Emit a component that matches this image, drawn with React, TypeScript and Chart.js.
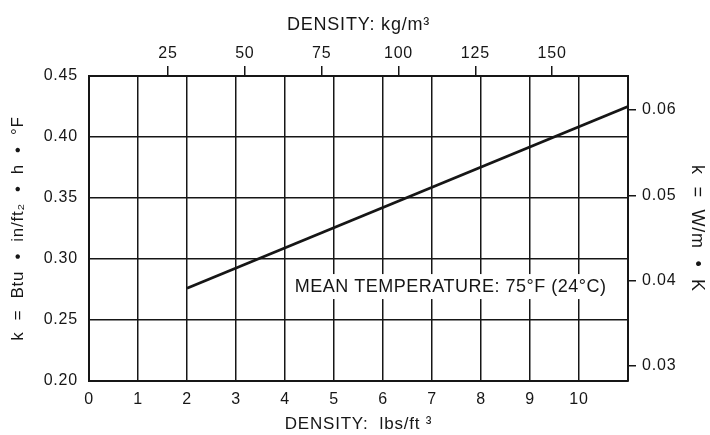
import React, { useEffect, useRef } from "react";
import { Chart, registerables } from "chart.js";

Chart.register(...registerables);

// Data
const densityLbs: number[] = [2, 11];
const kBtu: number[] = [0.276, 0.425];

const BOTTOM_TICKS: number[] = [0, 1, 2, 3, 4, 5, 6, 7, 8, 9, 10, 11];
const LEFT_TICKS: number[] = [0.2, 0.25, 0.3, 0.35, 0.4, 0.45];
const TOP_TICKS: number[] = [25, 50, 75, 100, 125, 150];
const RIGHT_TICKS: number[] = [0.03, 0.04, 0.05, 0.06];

const NOTE_TEXT = "MEAN TEMPERATURE: 75°F (24°C)";
const NOTE_X = 7.38;
const NOTE_Y = 0.277;

const FONT = "'Liberation Sans', Arial, Helvetica, sans-serif";
const INK = "#161616";

const spacingPlugin = {
  id: "spacingPlugin",
  beforeDraw(chart: any) {
    try {
      chart.ctx.letterSpacing = "0.8px";
    } catch (e) {
      /* ignore */
    }
  },
};

const notePlugin = {
  id: "notePlugin",
  afterDraw(chart: any) {
    const { ctx, scales } = chart;
    const x = scales.x.getPixelForValue(NOTE_X);
    const y = scales.y.getPixelForValue(NOTE_Y);
    ctx.save();
    try {
      ctx.letterSpacing = "0.5px";
    } catch (e) {
      /* ignore */
    }
    ctx.font = `18px ${FONT}`;
    const w = ctx.measureText(NOTE_TEXT).width;
    ctx.fillStyle = "#ffffff";
    ctx.fillRect(x - w / 2 - 4, y - 13, w + 8, 25);
    ctx.fillStyle = INK;
    ctx.textAlign = "center";
    ctx.textBaseline = "middle";
    ctx.fillText(NOTE_TEXT, x, y);
    ctx.restore();
  },
};

export default function App() {
  const ref = useRef<HTMLCanvasElement | null>(null);

  useEffect(() => {
    document.body.style.margin = "0";
    const canvas = ref.current;
    if (!canvas) return;
    const tickFont = { family: FONT, size: 16 };
    const chart = new Chart(canvas, {
      type: "line",
      data: {
        datasets: [
          {
            data: densityLbs.map((x, i) => ({ x, y: kBtu[i] })),
            borderColor: INK,
            borderWidth: 2.8,
            pointRadius: 0,
            fill: false,
            xAxisID: "x",
            yAxisID: "y",
          },
        ],
      },
      options: {
        responsive: false,
        animation: false,
        events: [],
        layout: { padding: 0 },
        plugins: {
          legend: { display: false },
          tooltip: { enabled: false },
        },
        scales: {
          x: {
            type: "linear",
            position: "bottom",
            min: 0,
            max: 11,
            afterBuildTicks: (s: any) => {
              s.ticks = BOTTOM_TICKS.map((v) => ({ value: v }));
            },
            afterFit: (s: any) => {
              s.height = 54;
            },
            ticks: {
              color: INK,
              font: tickFont,
              padding: 9,
              maxRotation: 0,
              autoSkip: false,
              callback: (v: any) => (v === 11 ? "" : String(v)),
            },
            grid: { color: INK, lineWidth: 1.5, drawTicks: false },
            border: { color: INK, width: 2 },
            title: {
              display: true,
              text: "DENSITY:  lbs/ft ³",
              color: INK,
              font: { family: FONT, size: 17 },
              padding: { top: 0, bottom: 0 },
            },
          },
          y: {
            type: "linear",
            position: "left",
            min: 0.2,
            max: 0.45,
            afterBuildTicks: (s: any) => {
              s.ticks = LEFT_TICKS.map((v) => ({ value: v }));
            },
            afterFit: (s: any) => {
              s.width = 89;
            },
            ticks: {
              color: INK,
              font: tickFont,
              padding: 11,
              callback: (v: any) => Number(v).toFixed(2),
            },
            grid: { color: INK, lineWidth: 1.5, drawTicks: false },
            border: { color: INK, width: 2 },
            title: {
              display: true,
              text: "k  =  Btu  •  in/ft₂  •  h  •  °F",
              color: INK,
              font: { family: FONT, size: 17 },
              padding: { top: 8, bottom: 0 },
            },
          },
          xTop: {
            type: "linear",
            position: "top",
            min: -0.72,
            max: 174.7,
            afterBuildTicks: (s: any) => {
              s.ticks = TOP_TICKS.map((v) => ({ value: v }));
            },
            afterFit: (s: any) => {
              s.height = 76;
            },
            ticks: {
              color: INK,
              font: tickFont,
              padding: 3,
              maxRotation: 0,
              autoSkip: false,
            },
            grid: {
              color: INK,
              lineWidth: 1.5,
              drawOnChartArea: false,
              drawTicks: true,
              tickLength: 10,
            },
            border: { color: INK, width: 2 },
            title: {
              display: true,
              text: "DENSITY: kg/m³",
              color: INK,
              font: { family: FONT, size: 18 },
              padding: { top: 14, bottom: 0 },
            },
          },
          yRight: {
            type: "linear",
            position: "right",
            min: 0.0282,
            max: 0.064,
            afterBuildTicks: (s: any) => {
              s.ticks = RIGHT_TICKS.map((v) => ({ value: v }));
            },
            afterFit: (s: any) => {
              s.width = 82;
            },
            ticks: {
              color: INK,
              font: tickFont,
              padding: 6,
              callback: (v: any) => Number(v).toFixed(2),
            },
            grid: {
              color: INK,
              lineWidth: 1.5,
              drawOnChartArea: false,
              drawTicks: true,
              tickLength: 8,
            },
            border: { color: INK, width: 2 },
            title: {
              display: true,
              text: "k  =  W/m  •  K",
              color: INK,
              font: { family: FONT, size: 18 },
              padding: { top: 2, bottom: 0 },
            },
          },
        },
      },
      plugins: [spacingPlugin, notePlugin],
    } as any);
    return () => chart.destroy();
  }, []);

  return (
    <div style={{ position: "absolute", left: 0, top: 0, width: 710, height: 435, background: "#fff" }}>
      <canvas ref={ref} width={710} height={435} style={{ width: 710, height: 435, display: "block" }} />
    </div>
  );
}
